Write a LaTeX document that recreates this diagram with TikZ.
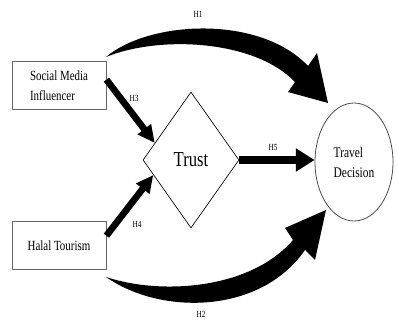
\documentclass[tikz,border=0pt]{standalone}
\usepackage{fontspec}
\setmainfont[FakeStretch=0.78]{Liberation Serif}
\usetikzlibrary{arrows.meta,shapes.geometric,calc}
\begin{document}
\begin{tikzpicture}[x=0.75pt,y=-0.75pt,
  box/.style={draw=black!60, line width=0.6pt, rectangle, minimum width=70.5pt, minimum height=36pt, inner sep=0, font=\fontsize{10.5}{15}\selectfont, align=left},
  lab/.style={font=\fontsize{7}{8}\selectfont, inner sep=0},
  bigarrow/.style={line width=5pt, -{Triangle[width=12pt,length=13pt]}},
]
\useasboundingbox (0,0) rectangle (397,321);
\node[box] (sm) at (59,85.5) {Social Media\\Influencer};
\node[box] (ht) at (59,245.5) {Halal Tourism};
\node[draw, diamond, minimum width=72pt, minimum height=102pt, inner sep=0, line width=0.5pt, font=\fontsize{16}{18}\selectfont] (tr) at (191,160) {Trust};
\node[draw=black!70, ellipse, minimum width=58.5pt, minimum height=88.5pt, inner sep=0, line width=0.6pt, font=\fontsize{11}{15}\selectfont, align=left] (td) at (354,162) {Travel\\Decision};
% H3, H4, H5
\draw[bigarrow] ($(sm.north east)!0.38!(sm.south east)$) -- ($(tr.north)!0.75!(tr.west)$);
\draw[bigarrow] ($(ht.north east)!0.3!(ht.south east)$) -- ($(tr.south)!0.78!(tr.west)$);
\draw[line width=6pt, -{Triangle[width=16.5pt,length=14pt]}] (tr.east) -- (tr.east -| td.west);
% H1
\fill (106,57) .. controls (150,20) and (260,15) .. (308,66) -- (317,53) -- (328,103) -- (288,92) -- (295,82) .. controls (255,40) and (160,35) .. (106,57) -- cycle;
% H2
\fill (106,277) .. controls (160,315) and (260,315) .. (305,250) -- (315,260) -- (326,210) -- (285,228) -- (293,240) .. controls (250,290) and (160,295) .. (106,277) -- cycle;
% labels
\node[lab] (h1) at (198,14) {H1};
\node[lab] (h2) at (201,314) {H2};
\node[lab] (h3) at (134,98) {H3};
\node[lab] (h4) at (137,224) {H4};
\node[lab] (h5) at (273,147) {H5};
\end{tikzpicture}
\end{document}
